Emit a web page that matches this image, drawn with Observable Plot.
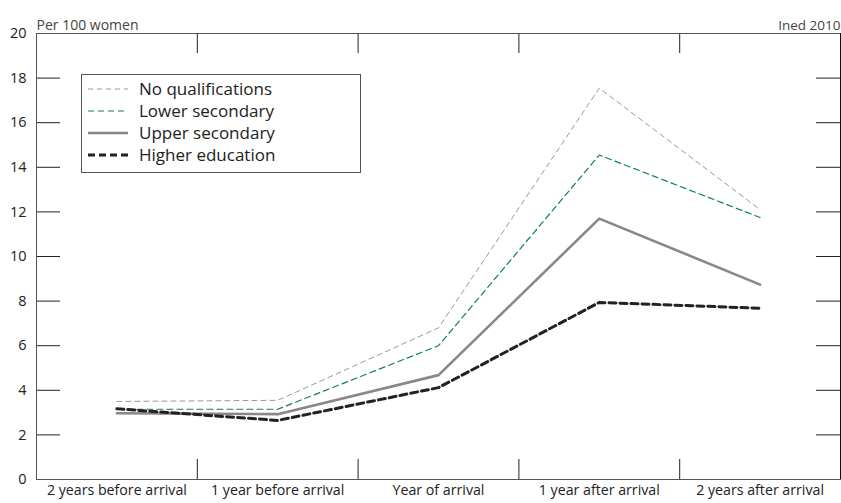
<!DOCTYPE html>
<html>
<head>
<meta charset="utf-8">
<script src="https://cdn.jsdelivr.net/npm/d3@7"></script>
<script src="https://cdn.jsdelivr.net/npm/@observablehq/plot@0.6"></script>
<style>
  body { margin: 0; background: white; font-family: "Open Sans", sans-serif; }
  #wrap { position: relative; width: 841px; height: 503px; }
  #legend {
    position: absolute; left: 81px; top: 74px; width: 280px; height: 99px;
    border: 1px solid #555; background: white; box-sizing: border-box;
    padding: 3px 0 0 6px; font-size: 17px; color: #222;
  }
  .row { height: 22px; line-height: 22px; display: flex; align-items: center; }
  .row svg { margin-right: 11px; }
</style>
</head>
<body>
<div id="wrap">
  <div id="chart"></div>
  <div id="legend"></div>
</div>
<script>
const categories = ["2 years before arrival", "1 year before arrival", "Year of arrival", "1 year after arrival", "2 years after arrival"];
const noQual   = [3.5, 3.55, 6.8, 17.55, 12.1];
const lowerSec = [3.15, 3.15, 6.0, 14.55, 11.75];
const upperSec = [2.97, 2.93, 4.68, 11.7, 8.74];
const higherEd = [3.17, 2.65, 4.12, 7.94, 7.68];
const yTicks = [0, 2, 4, 6, 8, 10, 12, 14, 16, 18, 20];

const series = [
  {name: "No qualifications", values: noQual, stroke: "#999", width: 1, dash: "5,4"},
  {name: "Lower secondary", values: lowerSec, stroke: "#0d7f62", width: 1.2, dash: "6,4"},
  {name: "Upper secondary", values: upperSec, stroke: "#888", width: 2.6, dash: null},
  {name: "Higher education", values: higherEd, stroke: "#222", width: 3, dash: "7,4"}
];

const idx = categories.map((d, i) => i);
const bounds = idx.slice(1).map((i) => i - 0.5);

let chart = Plot.plot({
  width: 841,
  height: 503,
  marginTop: 33,
  marginBottom: 24,
  marginLeft: 36,
  marginRight: 1,
  x: {domain: [-0.5, categories.length - 0.5]},
  y: {domain: [0, 20]},
  style: {"font-family": "Open Sans", "font-size": "14px", color: "#222"},
  marks: [
    Plot.axisX({ticks: idx, tickSize: 0, tickPadding: 5, tickFormat: (i) => categories[i], label: null, fontSize: 14.2}),
    Plot.axisY({ticks: yTicks, tickSize: 0, tickPadding: 10, label: null, fontSize: 14.5}),
    Plot.ruleX(bounds, {stroke: "#222", insetTop: 426}),
    Plot.ruleX(bounds, {stroke: "#222", insetBottom: 426}),
    Plot.ruleY(yTicks.slice(1, -1), {stroke: "#222", insetRight: 780}),
    Plot.ruleY(yTicks.slice(1, -1), {stroke: "#222", insetLeft: 780}),
    ...series.map((s) =>
      Plot.line(idx, {
        x: (i) => i,
        y: (i) => s.values[i],
        stroke: s.stroke,
        strokeWidth: s.width,
        strokeDasharray: s.dash
      })
    ),
    Plot.frame({stroke: "#555"}),
    Plot.ruleX([categories.length - 0.5], {stroke: "#111"}),
    Plot.text(["Per 100 women"], {frameAnchor: "top-left", textAnchor: "start", dy: -13, fontSize: 14, fill: "#444"}),
    Plot.text(["Ined 2010"], {frameAnchor: "top-right", textAnchor: "end", dy: -13, fontSize: 13.5, fill: "#444"})
  ]
});

d3.select("#chart").append(() => chart);

const legend = d3.select("#legend");
series.forEach((s) => {
  const row = legend.append("div").attr("class", "row");
  const svg = row.append("svg").attr("width", 40).attr("height", 10);
  svg.append("line")
    .attr("x1", 0).attr("x2", 40).attr("y1", 5).attr("y2", 5)
    .attr("stroke", s.stroke)
    .attr("stroke-width", s.width)
    .attr("stroke-dasharray", s.dash);
  row.append("span").text(s.name);
});
</script>
</body>
</html>
